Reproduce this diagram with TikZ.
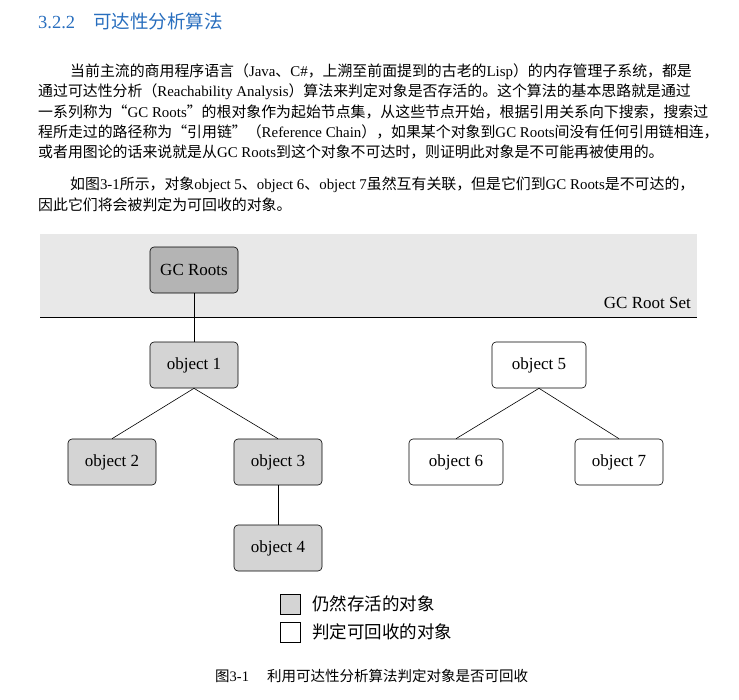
\documentclass[tikz,border=0pt]{standalone}
\usepackage{fontspec}
\setmainfont{Noto Sans CJK SC}
\newfontfamily\lser{Liberation Serif}
\newcommand\lt[1]{{\lser #1}}
\definecolor{headblue}{RGB}{40,110,190}
\definecolor{band}{RGB}{232,232,232}
\definecolor{live}{RGB}{212,212,212}
\begin{document}
\begin{tikzpicture}[x=1pt,y=-1pt,
  body/.style={anchor=west,inner sep=0,font=\fontsize{14.9}{15}\selectfont},
  obj/.style={draw,rounded corners=4pt,minimum width=88pt,minimum height=46pt,font=\lser\fontsize{17}{18}\selectfont,line width=0.6pt},
  gray/.style={obj,fill=live},
  wht/.style={obj,fill=white},
  conn/.style={line width=0.6pt}]
\useasboundingbox (0,0) rectangle (739,699);
\node[anchor=west,inner sep=0,text=headblue,font=\fontsize{18.5}{19}\selectfont] (h) at (38,21) {\lt{3.2.2}\hspace{18pt}可达性分析算法};
\node[body] (l1) at (70,72) {当前主流的商用程序语言（\lt{Java}、\lt{C\#}，上溯至前面提到的古老的\lt{Lisp}）的内存管理子系统，都是};
\node[body] (l2) at (38,92) {通过可达性分析（\lt{Reachability Analysis}）算法来判定对象是否存活的。这个算法的基本思路就是通过};
\node[body] (l3) at (38,112) {一系列称为“\lt{GC Roots}”的根对象作为起始节点集，从这些节点开始，根据引用关系向下搜索，搜索过};
\node[body] (l4) at (38,132) {程所走过的路径称为“引用链”（\lt{Reference Chain}），如果某个对象到\lt{GC Roots}间没有任何引用链相连，};
\node[body] (l5) at (38,152) {或者用图论的话来说就是从\lt{GC Roots}到这个对象不可达时，则证明此对象是不可能再被使用的。};
\node[body] (l6) at (70,185) {如图\lt{3-1}所示，对象\lt{object 5}、\lt{object 6}、\lt{object 7}虽然互有关联，但是它们到\lt{GC Roots}是不可达的，};
\node[body] (l7) at (38,205) {因此它们将会被判定为可回收的对象。};
\fill[band] (40,234) rectangle (697,317);
\draw[line width=0.8pt] (40,317) -- (697,317);
\node[anchor=east,inner sep=0,font=\lser\fontsize{17}{18}\selectfont] (set) at (691,303) {GC Root Set};
\node[gray,fill=live!85!black] (r) at (194,270) {GC Roots};
\node[gray] (o1) at (194,365) {object 1};
\node[gray] (o2) at (112,462) {object 2};
\node[gray] (o3) at (278,462) {object 3};
\node[gray] (o4) at (278,548) {object 4};
\node[wht,minimum width=94pt] (o5) at (539,365) {object 5};
\node[wht,minimum width=94pt] (o6) at (456,462) {object 6};
\node[wht] (o7) at (619,462) {object 7};
\draw[conn] (r) -- (o1);
\draw[conn] (o1.south) -- (o2.north);
\draw[conn] (o1.south) -- (o3.north);
\draw[conn] (o3) -- (o4);
\draw[conn] (o5.south) -- (o6.north);
\draw[conn] (o5.south) -- (o7.north);
\node[draw,fill=live,minimum size=20pt,inner sep=0] (k1) at (290,604) {};
\node[draw,fill=white,minimum size=20pt,inner sep=0] (k2) at (290,632) {};
\node[anchor=west,inner sep=0,font=\fontsize{17.5}{18}\selectfont] (t1) at (312,604) {仍然存活的对象};
\node[anchor=west,inner sep=0,font=\fontsize{17.5}{18}\selectfont] (t2) at (312,632) {判定可回收的对象};
\node[anchor=west,inner sep=0,font=\fontsize{14.5}{15}\selectfont] (cap) at (215,676) {图\lt{3-1}\hspace{18pt}利用可达性分析算法判定对象是否可回收};
\end{tikzpicture}
\end{document}
